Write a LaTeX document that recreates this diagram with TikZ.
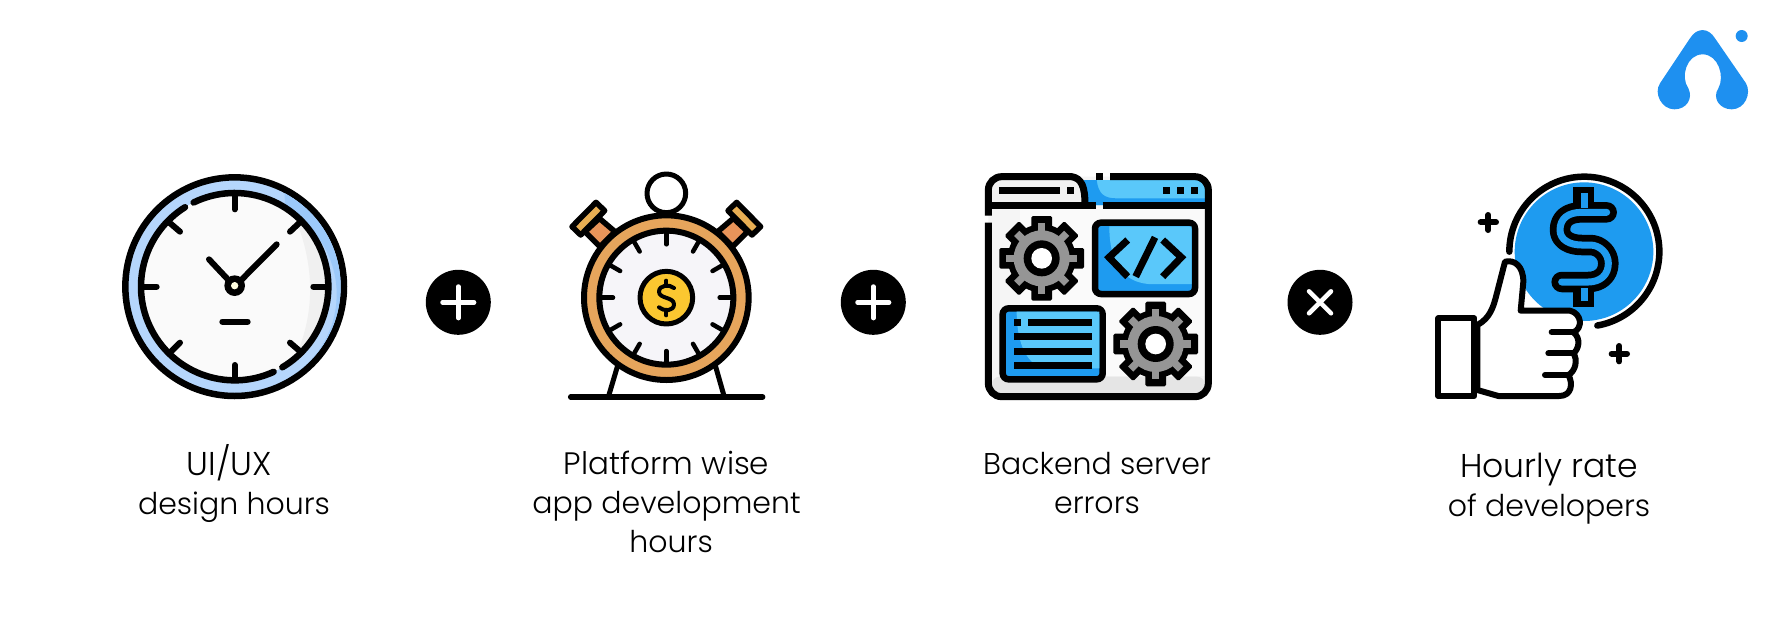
\documentclass[tikz,border=0pt]{standalone}
\usepackage{fontspec}
\setmainfont{Poppins Light}
\definecolor{bluedark}{HTML}{1E9BF0}
\definecolor{bluelight}{HTML}{5AC8FA}
\definecolor{clockblue}{HTML}{B5D6FC}
\definecolor{clockblue2}{HTML}{9CC9FA}
\definecolor{ringor}{HTML}{E6A55C}
\definecolor{stemor}{HTML}{E8945A}
\definecolor{coiny}{HTML}{FBC730}
\definecolor{faceg}{HTML}{F6F5F9}
\definecolor{gearg}{HTML}{959595}
\definecolor{logob}{HTML}{1E90F0}
\tikzset{
  opcircle/.style={fill=black,draw=none},
  opsign/.style={draw=white,line width=4.5pt,line cap=round},
  ink/.style={draw=black,line width=#1,line cap=round,line join=round},
  ink/.default=6pt,
  zoomed/.style={shift={(#1)},x=0.33333pt,y=-0.33333pt},
  caption/.style={font=\fontsize{30}{39}\selectfont,align=center,anchor=north,inner sep=0pt,text=black}
}
\newcommand{\gearicon}[2]{%
  \begin{scope}[shift={(#1,#2)}]
    \foreach \a in {0,45,...,315}{\fill[black,rotate=\a,rounded corners=1.5pt] (-31,0) rectangle (31,127);}
    \fill[black] (0,0) circle (102);
    \foreach \a in {0,45,...,315}{\fill[gearg,rotate=\a] (-11,0) rectangle (11,106);}
    \fill[gearg] (0,0) circle (84);
    \fill[black] (0,0) circle (54);
    \fill[white] (0,0) circle (31);
  \end{scope}}
\begin{document}
\begin{tikzpicture}[x=1pt,y=-1pt]
\useasboundingbox (0,0) rectangle (1782,630);
\fill[white] (0,0) rectangle (1782,630);

% Clock
\begin{scope}[zoomed={90,150}]
  \filldraw[ink=6.5pt,fill=clockblue] (434,410) circle (328);
  \fill[clockblue2] (434,410) ++(-62:318) arc[start angle=-62,end angle=55,radius=318] -- ++(0,0) arc[start angle=55,end angle=-62,radius=290] -- cycle;
  \fill[fill=white!98!black] (434,410) circle (281);
  \fill[gray!12] (434,410) ++(-48:278) arc[start angle=-48,end angle=48,radius=278] .. controls (640,560) and (700,420) .. (620,215) -- cycle;
  \draw[ink=6.5pt] (434,410) ++(-116:281) arc[start angle=-116,end angle=59.4,radius=281];
  \draw[ink=6.5pt] (434,410) ++(65.4:281) arc[start angle=65.4,end angle=238,radius=281];
  \draw[ink=6pt] (434,135) -- (434,178);
  \draw[ink=6pt] (434,645) -- (434,685);
  \draw[ink=6pt] (155,410) -- (200,410);
  \draw[ink=6pt] (670,410) -- (712,410);
  \draw[ink=6pt] (235,215) -- (270,245);
  \draw[ink=6pt] (600,245) -- (632,215);
  \draw[ink=6pt] (240,608) -- (270,578);
  \draw[ink=6pt] (600,578) -- (635,608);
  \draw[ink=6pt] (357,328) -- (434,410) -- (560,283);
  \fill[black] (434,407) circle (31);
  \fill[white!88!yellow] (434,407) circle (11);
  \draw[ink=6pt] (397,515) -- (473,515);
\end{scope}

% Plus 1
\fill[opcircle] (458.3,302.3) circle (32.5pt);
\draw[opsign] (442.5,302.3) -- (474.1,302.3);
\draw[opsign] (458.3,286.5) -- (458.3,318.1);

% Alarm
\begin{scope}[zoomed={540,150}]
  \filldraw[ink=5pt,fill=white] (379,130) circle (58);
  \draw[ink=5pt] (232,650) -- (205,741);
  \draw[ink=5pt] (527,650) -- (553,741);
  \draw[ink=5.5pt] (92,741) -- (668,741);
  \foreach \s/\o in {1/0,-1/758}{
    \begin{scope}[shift={(\o,0)},x={(\s*0.33333pt,0pt)}]
      \filldraw[ink=5.5pt,fill=stemor] (178,205) -- (225,245) -- (180,290) -- (135,245) -- cycle;
      \filldraw[ink=5.5pt,fill=ringor!90!yellow] (168,157) -- (194,182) -- (122,255) -- (96,230) -- cycle;
    \end{scope}}
  \filldraw[ink=6pt,fill=ringor] (379,443) circle (247);
  \filldraw[ink=6pt,fill=faceg] (379,443) circle (201);
  \foreach \a in {0,30,...,330}{
    \draw[ink=4.5pt] (379,443) ++(\a:198) -- ++(\a:-38);
  }
  \filldraw[ink=5pt,fill=coiny] (379,443) circle (79);
  \draw[ink=4pt] (402,414) .. controls (388,402) and (357,405) .. (357,425) .. controls (357,447) and (402,440) .. (402,463) .. controls (402,484) and (372,485) .. (357,472);
  \draw[ink=4pt] (379,392) -- (379,405);
  \draw[ink=4pt] (379,482) -- (379,496);
\end{scope}

% Plus 2
\fill[opcircle] (873.3,302.3) circle (32.5pt);
\draw[opsign] (857.5,302.3) -- (889.1,302.3);
\draw[opsign] (873.3,286.5) -- (873.3,318.1);

% Window
\begin{scope}[zoomed={960,150}]
  \fill[black!4,rounded corners=13pt] (85,80) rectangle (745,740);
  \fill[black!10,rounded corners=8pt] (95,680) rectangle (735,730);
  \fill[black!2] (180,175) rectangle (735,678);
  \fill[bluelight] (372,90) -- (715,90) .. controls (735,90) and (737,110) .. (737,130) -- (737,165) -- (372,165) -- cycle;
  \fill[bluedark] (372,90) -- (410,90) .. controls (415,130) and (430,145) .. (470,145) -- (737,145) -- (737,165) -- (372,165) -- cycle;
  \fill[black!5] (95,90) -- (335,90) .. controls (360,95) and (365,120) .. (365,155) -- (95,155) -- cycle;
  \draw[line width=7pt,line join=round] (85,218) -- (85,700) arc[start angle=180,end angle=90,radius=40] -- (705,740) arc[start angle=90,end angle=0,radius=40] -- (745,120) arc[start angle=0,end angle=-90,radius=40] -- (450,80);
  \draw[line width=7pt,line join=round] (85,197) -- (85,120) arc[start angle=180,end angle=270,radius=40] -- (335,80) .. controls (365,85) and (375,110) .. (375,165);
  \draw[line width=7pt] (81,165) -- (407,165);
  \draw[line width=7pt] (428,165) -- (749,165);
  \fill[black] (407,70) rectangle (428,90);
  \draw[line width=7pt] (118,122) -- (300,122);
  \fill[black] (320,112) rectangle (343,133);
  \fill[black] (608,112) rectangle (630,133);
  \fill[black] (652,112) rectangle (672,133);
  \fill[black] (693,112) rectangle (715,133);

  % code box
  \filldraw[line width=6.5pt,draw=black,fill=bluedark,rounded corners=6pt] (405,218) rectangle (705,432);
  \fill[bluelight] (448,229) -- (695,229) -- (695,402) -- (565,402) .. controls (490,395) and (448,340) .. (448,229) -- cycle;
  \draw[line width=7pt,line join=miter] (503,270) -- (447,322) -- (503,380);
  \draw[line width=7pt] (585,262) -- (527,380);
  \draw[line width=7pt,line join=miter] (608,270) -- (664,322) -- (608,380);

  % list box
  \filldraw[line width=6.5pt,draw=black,fill=bluedark,rounded corners=6pt] (128,475) rectangle (428,688);
  \fill[bluelight] (170,485) -- (418,485) -- (418,655) -- (250,655) .. controls (195,640) and (170,570) .. (170,485) -- cycle;
  \fill[black] (162,507) rectangle (182,528);
  \draw[line width=7pt] (205,517) -- (395,517);
  \draw[line width=7pt] (162,560) -- (395,560);
  \draw[line width=7pt] (162,603) -- (395,603);
  \draw[line width=7pt] (162,646) -- (395,646);

  \gearicon{245}{325}
  \gearicon{587}{582}
\end{scope}

% Times
\fill[opcircle] (1320,302.3) circle (32.5pt);
\draw[opsign] (1309,291.3) -- (1331,313.3);
\draw[opsign] (1309,313.3) -- (1331,291.3);

% Thumb
\begin{scope}[zoomed={1400,150}]
  \fill[bluedark] (552,305) circle (208);
  \draw[ink=6.5pt] (328,305) arc[start angle=180,end angle=440,radius=225];
  % dollar sign
  \draw[line width=20.5pt,line cap=butt] (551,112) -- (551,175);
  \draw[line width=20.5pt,line cap=butt] (551,415) -- (551,472);
  \draw[line width=20.5pt,line cap=round,line join=round] (620,187) -- (545,187) .. controls (505,187) and (480,205) .. (480,240) .. controls (480,270) and (510,285) .. (545,285) -- (570,285) .. controls (600,285) and (625,310) .. (625,340) .. controls (625,375) and (600,396) .. (565,396) -- (485,396);
  \draw[line width=7pt,draw=bluedark,line cap=butt] (553,130) -- (553,175);
  \draw[line width=7pt,draw=bluedark,line cap=butt] (553,415) -- (553,452);
  \draw[line width=7pt,draw=bluedark,line cap=round,line join=round] (620,187) -- (545,187) .. controls (505,187) and (480,205) .. (480,240) .. controls (480,270) and (510,285) .. (545,285) -- (570,285) .. controls (600,285) and (625,310) .. (625,340) .. controls (625,375) and (600,396) .. (565,396) -- (485,396);
  % hand
  \filldraw[ink=6pt,fill=white] (232,525) .. controls (270,505) and (280,470) .. (288,440) -- (315,335) .. controls (345,328) and (370,350) .. (370,395) -- (362,482) -- (510,482) .. controls (545,490) and (550,535) .. (520,547) .. controls (545,565) and (535,600) .. (520,610) .. controls (535,630) and (525,665) .. (505,675) .. controls (520,700) and (515,738) .. (478,738) -- (295,738) -- (232,720) -- cycle;
  \draw[ink=6pt] (455,547) -- (520,547);
  \draw[ink=6pt] (445,610) -- (520,610);
  \draw[ink=6pt] (435,675) -- (505,675);
  \filldraw[ink=6pt,fill=white] (115,505) rectangle (223,738);
  \draw[ink=6pt] (242,217) -- (288,217);
  \draw[ink=6pt] (265,195) -- (265,240);
  \draw[ink=6pt] (635,611) -- (681,611);
  \draw[ink=6pt] (658,588) -- (658,634);
\end{scope}

% Logo
\begin{scope}[zoomed={1640,10}]
  \fill[logob] (60,220) -- (150,85) .. controls (170,52) and (205,52) .. (225,85) -- (318,220) .. controls (335,250) and (315,298) .. (275,298) .. controls (240,298) and (215,265) .. (235,235) .. controls (255,200) and (235,133) .. (188,133) .. controls (140,133) and (120,200) .. (145,235) .. controls (160,265) and (140,298) .. (103,298) .. controls (65,298) and (40,250) .. (60,220) -- cycle;
  \fill[logob] (305,78) circle (18);
\end{scope}

\node[caption] (lab1) at (234,444) {{\fontsize{33}{39}\selectfont UI/UX}\hspace*{9pt}\\design hours};
\node[caption] (lab2) at (666.6,451) {{\fontsize{31}{39}\selectfont Platform wise}\\app development\\\hspace*{9pt}hours};
\node[caption] (lab3) at (1097,452) {Backend server\\errors};
\node[caption] (lab4) at (1549,453) {{\fontsize{33}{39}\selectfont Hourly rate}\\of developers};
\end{tikzpicture}
\end{document}
